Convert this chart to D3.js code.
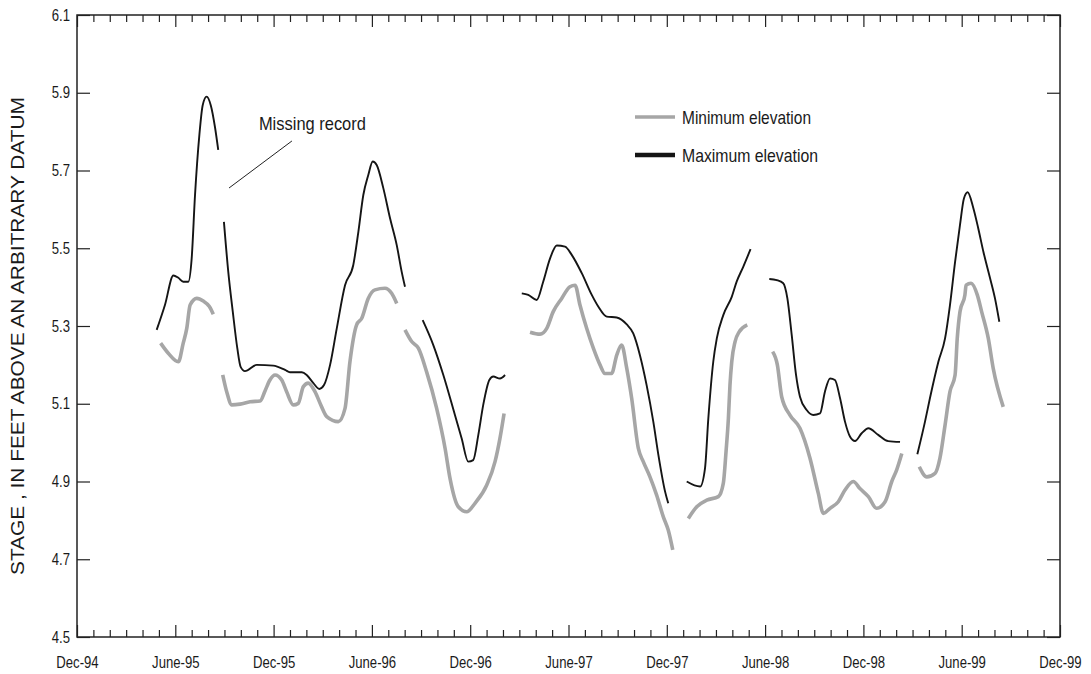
<!DOCTYPE html>
<html><head><meta charset="utf-8">
<script src="https://cdn.jsdelivr.net/npm/d3@7"></script>
<style>
body{margin:0;background:#fff}
svg text{font-family:'Liberation Sans Narrow','Arial Narrow','Liberation Sans',Arial,sans-serif;fill:#1a1a1a}
</style>
</head><body>
<svg id="chart" width="1091" height="674"></svg>
<script>
// ---- data ----
const xTickLabels = ["Dec-94","June-95","Dec-95","June-96","Dec-96","June-97","Dec-97","June-98","Dec-98","June-99","Dec-99"];
const yTicks = [4.5,4.7,4.9,5.1,5.3,5.5,5.7,5.9,6.1];
const seriesNames = ["Minimum elevation","Maximum elevation"];

// decimal years; null stage = missing record
const maxYear = [
 1995.322,1995.364,1995.407,1995.432,1995.457,1995.483,1995.500,1995.517,1995.539,1995.556,1995.576,1995.597,1995.619,1995.635,
 1995.650,
 1995.664,1995.686,1995.709,1995.732,1995.749,1995.771,1995.831,1995.915,1995.975,1996.000,1996.060,1996.085,1996.119,1996.149,1996.173,1996.204,1996.238,1996.280,1996.322,1996.348,1996.373,1996.398,1996.421,1996.441,1996.475,1996.509,1996.543,1996.568,1996.585,
 1996.630,
 1996.675,1996.729,1996.780,1996.839,1996.873,1996.907,1996.932,1996.958,1996.983,1997.014,1997.034,1997.068,1997.094,
 1997.140,
 1997.179,1997.212,1997.255,1997.288,1997.323,1997.357,1997.399,1997.433,1997.484,1997.535,1997.568,1997.611,1997.662,1997.713,1997.746,1997.780,1997.814,1997.848,1997.874,1997.908,1997.924,
 1997.970,
 1998.018,1998.086,1998.111,1998.128,1998.153,1998.171,1998.204,1998.247,1998.272,1998.306,1998.343,
 1998.390,
 1998.438,1998.476,1998.509,1998.530,1998.552,1998.574,1998.594,1998.628,1998.662,1998.696,1998.721,1998.747,1998.772,1998.798,1998.823,1998.849,1998.874,1998.908,1998.942,1998.992,1999.043,1999.103,
 1999.150,
 1999.191,1999.230,1999.255,1999.298,1999.332,1999.357,1999.383,1999.408,1999.428,1999.447,1999.476,1999.501,1999.527,1999.561,1999.586,1999.608
];
const maxStage = [
 5.29,5.354,5.43,5.424,5.414,5.414,5.474,5.637,5.791,5.868,5.89,5.868,5.81,5.753,
 null,
 5.568,5.44,5.337,5.243,5.195,5.184,5.2,5.198,5.187,5.181,5.181,5.174,5.153,5.138,5.148,5.2,5.294,5.405,5.457,5.543,5.637,5.688,5.723,5.714,5.654,5.577,5.508,5.44,5.401,
 null,
 5.315,5.251,5.174,5.071,5.011,4.951,4.955,5.02,5.097,5.161,5.17,5.165,5.174,
 null,
 5.384,5.38,5.367,5.414,5.474,5.507,5.504,5.483,5.436,5.38,5.35,5.324,5.322,5.304,5.281,5.225,5.148,5.054,4.968,4.874,4.844,
 null,
 4.9,4.887,4.934,5.063,5.208,5.268,5.328,5.375,5.414,5.453,5.498,
 null,
 5.421,5.418,5.41,5.371,5.277,5.174,5.118,5.084,5.071,5.075,5.131,5.165,5.161,5.114,5.054,5.015,5.004,5.024,5.037,5.02,5.004,5.002,
 null,
 4.97,5.054,5.114,5.208,5.268,5.354,5.465,5.56,5.628,5.644,5.603,5.551,5.491,5.423,5.371,5.311
];
const minYear = [
 1995.342,1995.381,1995.432,1995.457,1995.475,1995.492,1995.526,1995.559,1995.590,1995.610,
 1995.630,
 1995.658,1995.678,1995.704,1995.746,1995.797,1995.848,1995.873,1995.898,1995.924,1995.958,1995.983,1996.017,1996.042,1996.068,1996.093,1996.127,1996.161,1996.187,1996.246,1996.280,1996.305,1996.339,1996.365,1996.398,1996.432,1996.483,1996.517,1996.543,
 1996.560,
 1996.585,1996.619,1996.653,1996.695,1996.746,1996.789,1996.814,1996.856,1996.899,1996.941,1997.001,1997.043,1997.068,1997.089,
 1997.150,
 1997.221,1997.272,1997.306,1997.339,1997.382,1997.424,1997.450,1997.475,1997.509,1997.543,1997.577,1997.602,1997.636,1997.662,1997.687,1997.713,1997.738,1997.772,1997.797,1997.831,1997.865,1997.899,1997.924,1997.947,
 1997.990,
 1998.026,1998.069,1998.120,1998.179,1998.204,1998.218,1998.230,1998.238,1998.247,1998.264,1998.285,1998.326,
 1998.390,
 1998.455,1998.479,1998.501,1998.543,1998.594,1998.645,1998.687,1998.713,1998.747,1998.789,1998.823,1998.865,1998.899,1998.942,1998.984,1999.027,1999.061,1999.086,1999.112,
 1999.160,
 1999.201,1999.239,1999.281,1999.306,1999.332,1999.357,1999.383,1999.394,1999.408,1999.433,1999.439,1999.464,1999.496,1999.518,1999.552,1999.577,1999.628
];
const minStage = [
 5.256,5.23,5.208,5.256,5.294,5.354,5.371,5.364,5.35,5.33,
 null,
 5.174,5.131,5.097,5.099,5.105,5.107,5.133,5.161,5.174,5.161,5.131,5.097,5.101,5.144,5.153,5.131,5.092,5.067,5.054,5.088,5.208,5.303,5.32,5.371,5.393,5.397,5.384,5.358,
 null,
 5.29,5.26,5.243,5.182,5.088,4.985,4.908,4.835,4.822,4.844,4.891,4.951,5.011,5.075,
 null,
 5.284,5.279,5.294,5.337,5.371,5.401,5.405,5.354,5.294,5.243,5.2,5.178,5.178,5.225,5.251,5.191,5.114,4.985,4.951,4.912,4.865,4.809,4.775,4.724,
 null,
 4.805,4.835,4.852,4.861,4.895,4.977,5.063,5.148,5.208,5.26,5.285,5.303,
 null,
 5.234,5.2,5.118,5.071,5.037,4.96,4.87,4.818,4.831,4.848,4.878,4.9,4.882,4.861,4.831,4.848,4.9,4.93,4.972,
 null,
 4.938,4.912,4.921,4.96,5.045,5.131,5.174,5.268,5.337,5.38,5.405,5.41,5.38,5.337,5.268,5.191,5.092
];
// annotation anchor (data units)
const noteText = "Missing record";
const noteAt = {year:1995.842, stage:5.804};
const noteLine = [{year:1995.690, stage:5.655},{year:1996.010, stage:5.776}];

// ---- layout ----
const svg = d3.select("#chart");
const L=77, R=1060, T=15, B=637;
const SX = 0.82; // horizontal condensing to mimic a narrow face
const startYear = 1994 + 11/12;
const x = d3.scaleLinear().domain([startYear, startYear+5]).range([L,R]);
const y = d3.scaleLinear().domain([4.5,6.1]).range([B,T]);
const months = d3.range(0,61).map(i => startYear + i/12);
const majors = months.filter((d,i) => i%6===0);
const isMajor = d => { const k = Math.round((d-startYear)*12); return k%6===0; };
const axisColor = "#222";

// bottom ticks (inward)
const gb = svg.append("g").attr("transform",`translate(0,${B})`)
  .call(d3.axisTop(x).tickValues(months).tickFormat("").tickSizeOuter(0));
gb.selectAll(".tick line").attr("y2", d => isMajor(d) ? -12 : -7);
// top ticks
const gt = svg.append("g").attr("transform",`translate(0,${T})`)
  .call(d3.axisBottom(x).tickValues(months).tickFormat("").tickSizeOuter(0));
gt.selectAll(".tick line").attr("y2", d => isMajor(d) ? 12 : 7);
// left / right ticks
svg.append("g").attr("transform",`translate(${L},0)`)
  .call(d3.axisRight(y).tickValues(yTicks).tickFormat("").tickSize(13).tickSizeOuter(0));
svg.append("g").attr("transform",`translate(${R},0)`)
  .call(d3.axisLeft(y).tickValues(yTicks).tickFormat("").tickSize(13).tickSizeOuter(0));
svg.selectAll(".tick line").attr("stroke",axisColor).attr("stroke-width",1.2);

// bottom labels
const gbl = svg.append("g").attr("transform",`translate(0,${B})`)
  .call(d3.axisBottom(x).tickValues(majors).tickSize(0).tickPadding(20)
    .tickFormat((d,i) => xTickLabels[i]));
gbl.selectAll(".tick text").attr("transform",`scale(${SX},1)`);
// left labels
const gll = svg.append("g").attr("transform",`translate(${L},0)`)
  .call(d3.axisLeft(y).tickValues(yTicks).tickSize(0).tickPadding(7).tickFormat(d3.format(".1f")));
gll.selectAll(".tick text").attr("x", -7/SX).attr("transform",`scale(${SX},1)`);
svg.selectAll(".domain").remove();
svg.selectAll(".tick text").attr("font-size",16).attr("fill","#1a1a1a")
  .style("font-family","'Liberation Sans Narrow','Arial Narrow','Liberation Sans',sans-serif");
// frame
svg.append("rect").attr("x",L).attr("y",T).attr("width",R-L).attr("height",B-T)
  .attr("fill","none").attr("stroke",axisColor).attr("stroke-width",1.5);

// y title
svg.append("text").attr("transform",`translate(24,336) rotate(-90)`)
  .attr("text-anchor","middle").attr("font-size",19)
  .attr("textLength",478).attr("lengthAdjust","spacingAndGlyphs")
  .text("STAGE , IN FEET ABOVE AN ARBITRARY DATUM");

// series
const toPts = (xs, vs) => xs.map((t,i) => ({t, v: vs[i]}));
const line = d3.line().defined(d => d.v != null).x(d => x(d.t)).y(d => y(d.v)).curve(d3.curveMonotoneX);
svg.append("path").datum(toPts(minYear,minStage)).attr("d",line)
  .attr("fill","none").attr("stroke","#a6a6a6").attr("stroke-width",3.6).attr("stroke-linejoin","round");
svg.append("path").datum(toPts(maxYear,maxStage)).attr("d",line)
  .attr("fill","none").attr("stroke","#151515").attr("stroke-width",1.9).attr("stroke-linejoin","round");

// annotation
svg.append("line").attr("x1",x(noteLine[0].year)).attr("y1",y(noteLine[0].stage))
  .attr("x2",x(noteLine[1].year)).attr("y2",y(noteLine[1].stage))
  .attr("stroke","#222").attr("stroke-width",1);
svg.append("text").attr("x",x(noteAt.year)).attr("y",y(noteAt.stage)).attr("font-size",19)
  .attr("textLength",107).attr("lengthAdjust","spacingAndGlyphs").text(noteText);

// legend
const leg = svg.append("g").attr("transform","translate(635,117)");
const legStyles = [{c:"#a6a6a6",w:3.6,len:129},{c:"#151515",w:4.5,len:136}];
seriesNames.forEach((n,i) => {
  const g = leg.append("g").attr("transform",`translate(0,${i*38})`);
  g.append("line").attr("x1",0).attr("x2",40).attr("stroke",legStyles[i].c).attr("stroke-width",legStyles[i].w);
  g.append("text").attr("x",47).attr("dy","0.35em").attr("font-size",19)
    .attr("textLength",legStyles[i].len).attr("lengthAdjust","spacingAndGlyphs").text(n);
});
</script>
</body></html>
